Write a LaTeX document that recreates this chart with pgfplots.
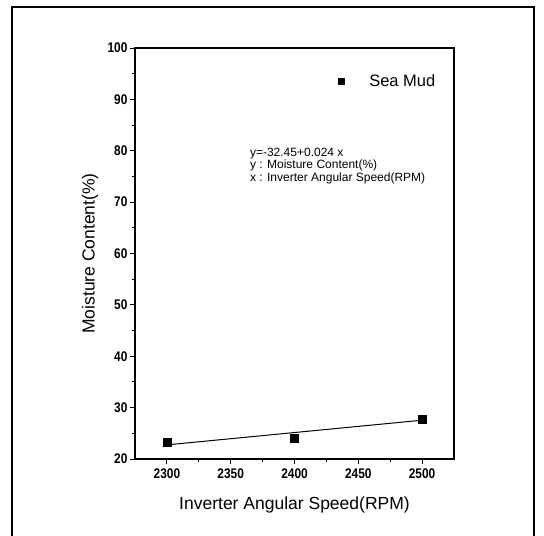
\documentclass[border=0pt]{standalone}
\usepackage{pgfplots}
\pgfplotsset{compat=1.18}
\usepackage{fontspec}
\setmainfont{Liberation Sans}
\newfontfamily\tickfont{Liberation Sans}[FakeStretch=0.85]
\begin{document}
\begin{tikzpicture}[x=1bp,y=1bp]
\path[use as bounding box] (0,0) rectangle (544,536);
\draw[line width=1.4bp] (12,0) -- (12,529) -- (534,529) -- (534,0);
\begin{axis}[
  at={(135bp,77bp)}, anchor=south west,
  scale only axis, width=319bp, height=411bp,
  xmin=2275, xmax=2525, ymin=20, ymax=100,
  xtick={2300,2350,...,2500}, ytick={20,30,...,100},
  minor x tick num=1, minor y tick num=1,
  tick align=outside, xtick pos=bottom, ytick pos=left,
  axis line style={line width=1.3bp},
  major tick length=5bp, minor tick length=3bp,
  tick style={black, line width=0.9bp},
  /pgf/number format/assume math mode=true,
  /pgf/number format/1000 sep={},
  ticklabel style={font=\tickfont\bfseries\fontsize{14bp}{15bp}\selectfont},
  yticklabel style={xshift=1bp},
  xticklabel style={yshift=-1bp},
  xlabel={Inverter Angular Speed(RPM)},
  ylabel={Moisture Content(\%)},
  xlabel style={at={(axis description cs:0.5,-0.092)}, anchor=north, inner sep=0pt, font=\fontsize{17.5bp}{20bp}\selectfont},
  ylabel style={at={(axis description cs:-0.141,0.5)}, anchor=center, inner sep=0pt, font=\fontsize{17.5bp}{20bp}\selectfont},
  legend style={draw=none, fill=none, at={(axis description cs:0.636,0.92)}, anchor=west, inner sep=0pt, font=\fontsize{16.5bp}{18bp}\selectfont},
  legend image code/.code={\path[draw=none,fill=none] (-3bp,-3bp) rectangle (26bp,3bp); \fill[black] (-3bp,-3bp) rectangle (3bp,3bp);},
]
\addplot[only marks, mark=square*, mark size=4bp, black] coordinates {(2300,23.3) (2400,24.1) (2500,27.7)};
\addlegendentry{Sea Mud}
\addplot[black, line width=1bp, forget plot] coordinates {(2300,22.75) (2500,27.55)};
\node[anchor=north west, align=left, inner sep=0pt, font=\fontsize{12bp}{12.5bp}\selectfont] at (axis cs:2365,80.6) {y=-32.45+0.024 x\\y : Moisture Content(\%)\\x : Inverter Angular Speed(RPM)};
\end{axis}
\end{tikzpicture}
\end{document}
